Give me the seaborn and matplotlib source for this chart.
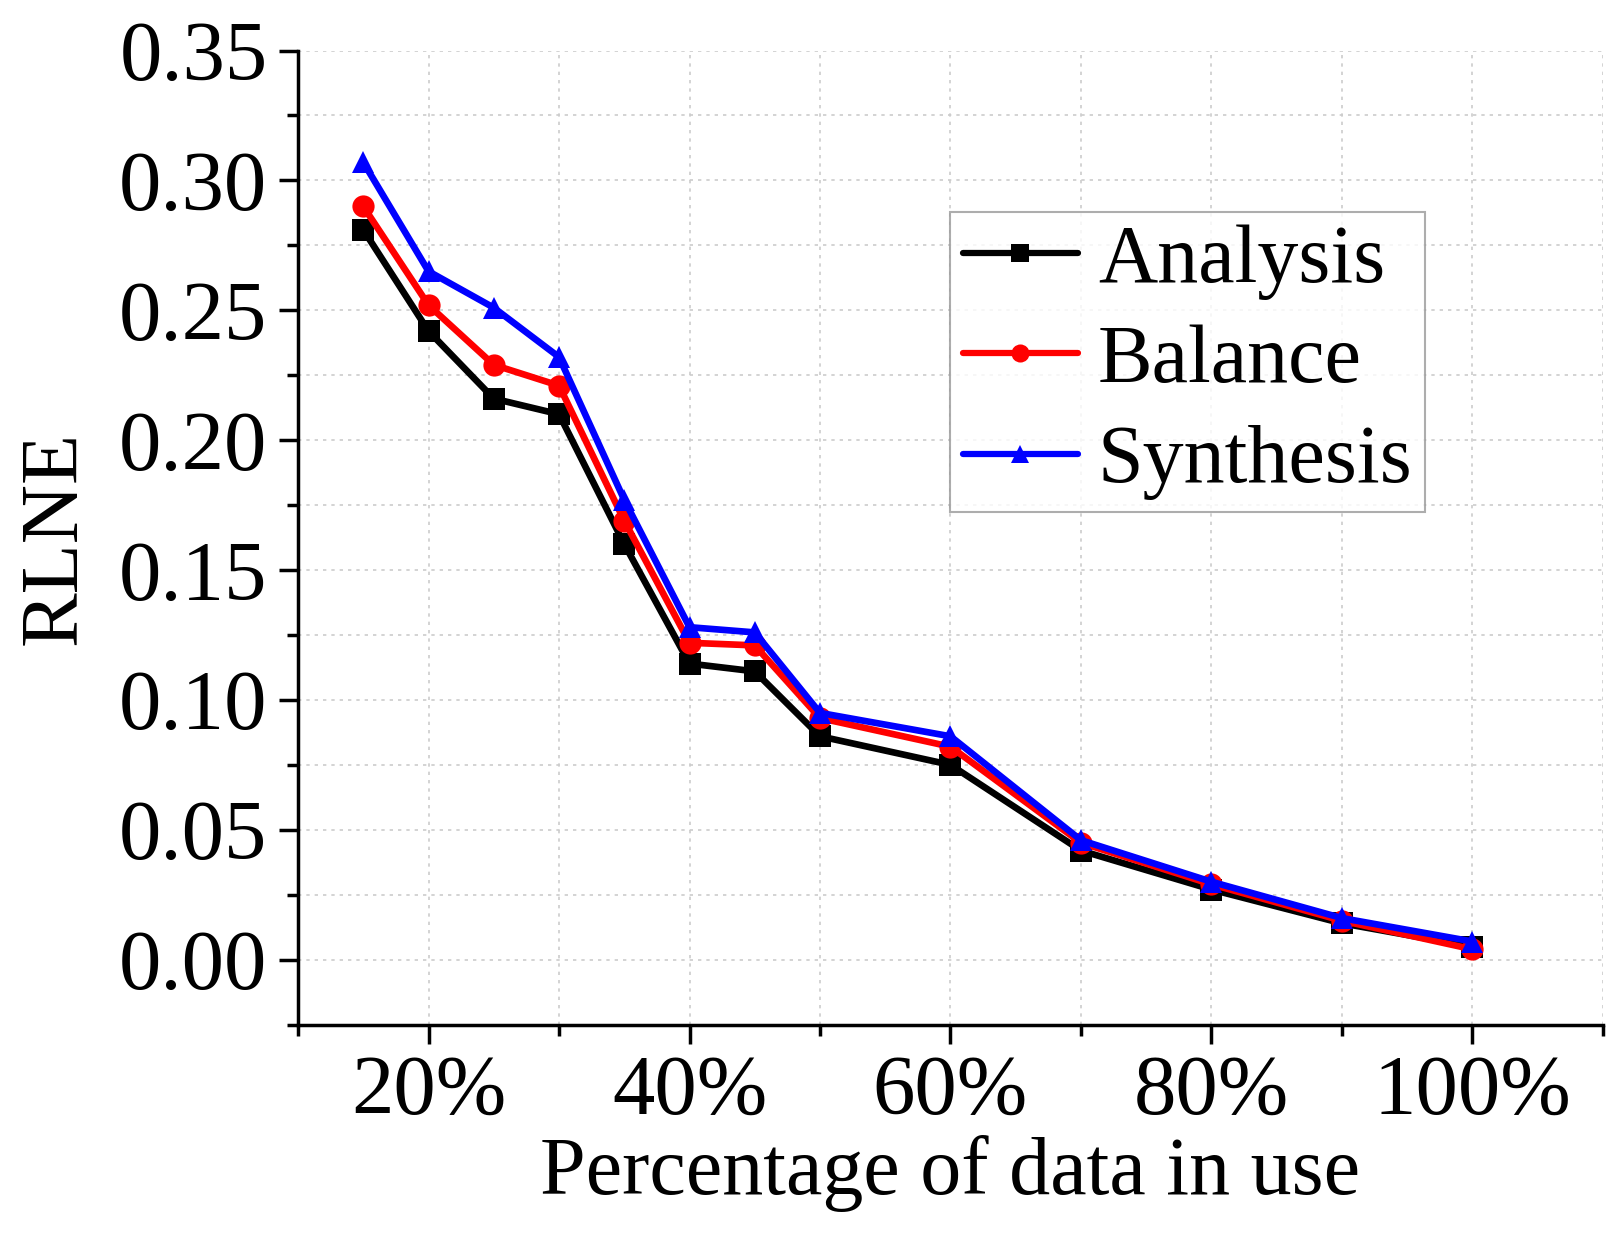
import matplotlib
matplotlib.use("Agg")
import matplotlib.pyplot as plt
import seaborn as sns
import pandas as pd
from matplotlib.ticker import MultipleLocator, FuncFormatter

pct = [15, 20, 25, 30, 35, 40, 45, 50, 60, 70, 80, 90, 100]
analysis = [0.281, 0.242, 0.216, 0.210, 0.160, 0.114, 0.111, 0.086, 0.075, 0.042, 0.027, 0.014, 0.005]
balance = [0.290, 0.252, 0.229, 0.221, 0.169, 0.122, 0.121, 0.093, 0.082, 0.045, 0.029, 0.015, 0.004]
synthesis = [0.307, 0.265, 0.251, 0.232, 0.177, 0.128, 0.126, 0.095, 0.086, 0.046, 0.030, 0.016, 0.007]
series_names = ["Analysis", "Balance", "Synthesis"]

rows = []
for name, vals in zip(series_names, [analysis, balance, synthesis]):
    for x, y in zip(pct, vals):
        rows.append({"pct": x, "RLNE": y, "method": name})
df = pd.DataFrame(rows)

sns.set_style("ticks")
plt.rcParams["font.family"] = ["Liberation Serif", "DejaVu Serif"]
plt.rcParams["text.color"] = "black"
plt.rcParams["axes.labelcolor"] = "black"
plt.rcParams["xtick.color"] = "black"
plt.rcParams["ytick.color"] = "black"

fig = plt.figure(figsize=(16.11, 12.33), dpi=100)
ax = fig.add_axes([0.185, 0.169, 0.81, 0.79])

sns.lineplot(data=df, x="pct", y="RLNE", hue="method", style="method",
             palette=["#000000", "#ff0000", "#0000ff"],
             markers=["s", "o", "^"], dashes=False, linewidth=4.8,
             markersize=16, markeredgewidth=0, ax=ax)

ax.set_xlim(10, 110)
ax.set_ylim(-0.025, 0.35)
ax.xaxis.set_major_locator(MultipleLocator(20))
ax.xaxis.set_minor_locator(MultipleLocator(10))
ax.yaxis.set_major_locator(MultipleLocator(0.05))
ax.yaxis.set_minor_locator(MultipleLocator(0.025))
ax.xaxis.set_major_formatter(FuncFormatter(lambda v, p: f"{int(round(v))}%"))
ax.yaxis.set_major_formatter(FuncFormatter(lambda v, p: f"{v:.2f}"))

ax.grid(True, which="both", color="#cccccc", linestyle=(0, (2, 3)), linewidth=1.2)
ax.set_axisbelow(True)

for s in ["top", "right"]:
    ax.spines[s].set_visible(False)
for s in ["left", "bottom"]:
    ax.spines[s].set_linewidth(2.5)
    ax.spines[s].set_color("black")

ax.tick_params(axis="both", which="major", direction="out", length=14, width=2.5,
               labelsize=61, colors="black", pad=8)
ax.tick_params(axis="both", which="minor", direction="out", length=8, width=2.5)

ax.set_xlabel("Percentage of data in use", fontsize=59, labelpad=2)
ax.set_ylabel("RLNE", fontsize=59, labelpad=18)

leg = ax.legend(loc="upper left", bbox_to_anchor=(0.5, 0.834), fontsize=59,
                frameon=True, fancybox=False, edgecolor="#999999",
                handlelength=1.4, handletextpad=0.25, borderpad=0.15,
                labelspacing=0.3, borderaxespad=0, title=None)
leg.get_frame().set_linewidth(1.5)
for line in leg.get_lines():
    line.set_linewidth(4.5)
    line.set_markersize(13)
for t in leg.get_texts():
    t.set_color("black")

fig.savefig("out.png", dpi=100)
